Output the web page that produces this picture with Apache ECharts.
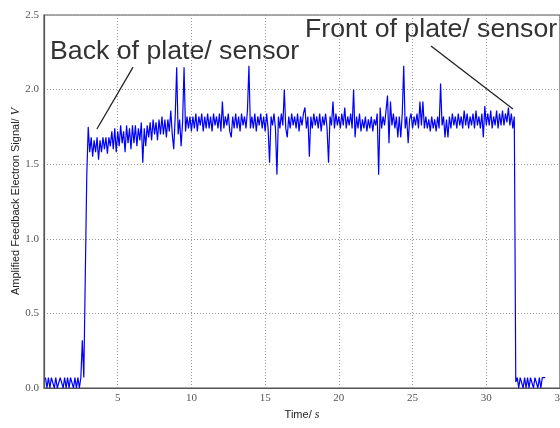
<!DOCTYPE html>
<html>
<head>
<meta charset="utf-8">
<script src="https://cdn.jsdelivr.net/npm/echarts@6/dist/echarts.min.js"></script>
<style>
  html, body { margin: 0; padding: 0; background: #fff; }
  #chart { width: 560px; height: 428px; }
</style>
</head>
<body>
<div id="chart"></div>
<script>
// sampling of the trace (s)
var t0 = 0.1
var dt = 0.1

// amplified feedback electron signal (V), one row per second
var signal = [
  0.07, 0, 0.07, 0, 0.07, 0.07, 0, 0.07, 0, 0,
  0.07, 0.07, 0, 0.07, 0, 0.07, 0, 0.07, 0.07, 0,
  0.07, 0, 0.07, 0, 0.07, 0.32, 0.07, 0.07, 1.42, 1.75,
  1.58, 1.68, 1.55, 1.66, 1.58, 1.68, 1.53, 1.66, 1.58, 1.68,
  1.60, 1.68, 1.57, 1.68, 1.62, 1.72, 1.60, 1.74, 1.58, 1.72,
  1.62, 1.76, 1.64, 1.72, 1.58, 1.76, 1.64, 1.74, 1.60, 1.76,
  1.64, 1.76, 1.62, 1.74, 1.66, 1.78, 1.51, 1.74, 1.62, 1.76,
  1.68, 1.78, 1.66, 1.80, 1.70, 1.78, 1.66, 1.80, 1.70, 1.82,
  1.70, 1.80, 1.68, 1.80, 1.72, 1.86, 1.70, 1.60, 1.82, 2.15,
  1.70, 1.80, 1.62, 1.78, 2.15, 1.72, 1.82, 1.74, 1.82, 1.72,
  1.82, 1.74, 1.84, 1.72, 1.82, 1.76, 1.84, 1.72, 1.82, 1.74,
  1.84, 1.74, 1.82, 1.72, 1.84, 1.76, 1.82, 1.74, 1.84, 1.72,
  1.92, 1.74, 1.82, 1.76, 1.84, 1.72, 1.68, 1.82, 1.74, 1.84,
  1.74, 1.82, 1.72, 1.84, 1.76, 1.82, 1.74, 1.86, 2.16, 1.74,
  1.82, 1.74, 1.84, 1.72, 1.82, 1.76, 1.84, 1.74, 1.82, 1.72,
  1.84, 1.74, 1.51, 1.82, 1.76, 1.84, 1.74, 1.43, 1.82, 1.74,
  1.84, 1.76, 2.00, 1.74, 1.68, 1.82, 1.74, 1.84, 1.76, 1.82,
  1.74, 1.84, 1.72, 1.82, 1.76, 1.84, 1.88, 1.74, 1.82, 1.55,
  1.82, 1.74, 1.84, 1.76, 1.82, 1.74, 1.84, 1.72, 1.82, 1.76,
  1.84, 1.74, 1.51, 1.82, 1.76, 1.92, 1.74, 1.84, 1.76, 1.82,
  1.74, 1.84, 1.76, 1.88, 1.74, 1.82, 1.76, 1.84, 1.74, 2.00,
  1.68, 1.82, 1.74, 1.84, 1.72, 1.80, 1.74, 1.82, 1.72, 1.80,
  1.74, 1.82, 1.72, 1.80, 1.76, 1.84, 1.43, 1.88, 1.74, 1.82,
  1.76, 1.86, 1.96, 1.64, 1.92, 1.76, 1.84, 1.74, 1.82, 1.68,
  1.82, 1.68, 1.84, 2.16, 1.74, 1.82, 1.64, 1.80, 1.84, 1.74,
  1.82, 1.76, 1.84, 1.74, 1.92, 1.76, 1.92, 1.74, 1.82, 1.74,
  1.80, 1.72, 1.82, 1.74, 1.80, 1.72, 1.82, 1.74, 2.04, 1.76,
  1.82, 1.68, 1.80, 1.68, 1.82, 1.74, 1.84, 1.76, 1.82, 1.74,
  1.84, 1.76, 1.82, 1.74, 1.86, 1.76, 1.84, 1.74, 1.82, 1.76,
  1.84, 1.74, 1.86, 1.76, 1.82, 1.74, 1.84, 1.68, 1.89, 1.76,
  1.84, 1.76, 1.86, 1.74, 1.82, 1.76, 1.86, 1.74, 1.84, 1.76,
  1.86, 1.76, 1.84, 1.78, 1.88, 1.76, 1.84, 1.74, 1.82, 0.04,
  0.07, 0, 0.07, 0.07, 0, 0.07, 0, 0.07, 0, 0.07,
  0.07, 0, 0.07, 0.07, 0, 0.07, 0, 0.07, 0.07, 0.07
]

// annotation arrows: [from, to] in data coords (s, V)
var backArrow = [[3.59, 1.736], [6.04, 2.151]]
var frontArrow = [[26.25, 2.292], [31.81, 1.870]]

var xRange = [0, 35]
var yRange = [0, 2.5]

var points = signal.map(function(v, i) {
  return [Math.round((t0 + i * dt) * 100) / 100, v]
})

var chart = echarts.init(document.getElementById('chart'), null, { renderer: 'canvas' })

var labelFont = 'Liberation Serif'
var nameFont = 'Liberation Sans'

chart.setOption({
  animation: false,
  backgroundColor: '#fff',
  grid: {
    left: 44,
    right: 0,
    top: 15,
    bottom: 40,
    containLabel: false,
    outerBoundsMode: 'none',
    show: true,
    borderColor: '#555',
    borderWidth: 1.2
  },
  xAxis: {
    type: 'value',
    min: xRange[0],
    max: xRange[1],
    interval: 5,
    name: '{n|Time/ }{i|s}',
    nameLocation: 'middle',
    nameGap: 21,
    nameMoveOverlap: false,
    nameTextStyle: {
      rich: {
        n: { fontFamily: nameFont, fontSize: 11, color: '#222' },
        i: { fontFamily: labelFont, fontSize: 12, fontStyle: 'italic', color: '#222' }
      }
    },
    axisLine: { show: true, onZero: false, lineStyle: { color: '#555', width: 1.2 } },
    axisTick: { show: false },
    axisLabel: {
      margin: 5,
      fontFamily: labelFont,
      fontSize: 11,
      color: '#555',
      hideOverlap: false,
      formatter: function(v) { return v === 0 ? '' : String(v) }
    },
    splitLine: { show: true, lineStyle: { color: '#999', type: [1, 2], width: 1 } }
  },
  yAxis: {
    type: 'value',
    min: yRange[0],
    max: yRange[1],
    interval: 0.5,
    name: '{n|Amplified Feedback Electron Signal/ }{i|V}',
    nameLocation: 'middle',
    nameGap: 22,
    nameMoveOverlap: false,
    nameTextStyle: {
      rich: {
        n: { fontFamily: nameFont, fontSize: 11, color: '#222' },
        i: { fontFamily: labelFont, fontSize: 12, fontStyle: 'italic', color: '#222' }
      }
    },
    axisLine: { show: true, lineStyle: { color: '#555', width: 1.2 } },
    axisTick: { show: false },
    axisLabel: {
      margin: 5,
      fontFamily: labelFont,
      fontSize: 11,
      color: '#555',
      formatter: function(v) { return v.toFixed(1) }
    },
    splitLine: { show: true, lineStyle: { color: '#999', type: [1, 2], width: 1 } }
  },
  series: [{
    type: 'line',
    data: points,
    symbol: 'none',
    showSymbol: false,
    lineStyle: { color: '#0000ff', width: 1.2 },
    markLine: {
      silent: true,
      symbol: ['none', 'none'],
      label: { show: false },
      lineStyle: { color: '#222', width: 1.3, type: 'solid' },
      data: [
        [{ coord: backArrow[0] }, { coord: backArrow[1] }],
        [{ coord: frontArrow[0] }, { coord: frontArrow[1] }]
      ]
    }
  }],
  graphic: [
    {
      type: 'text',
      x: 50,
      y: 51.5,
      style: {
        text: 'Back of plate/ sensor',
        font: '26.7px "Liberation Sans"',
        fill: '#333',
        verticalAlign: 'middle'
      }
    },
    {
      type: 'text',
      x: 305,
      y: 29.5,
      style: {
        text: 'Front of plate/ sensor',
        font: '26.7px "Liberation Sans"',
        fill: '#333',
        verticalAlign: 'middle'
      }
    }
  ]
})
</script>
</body>
</html>
